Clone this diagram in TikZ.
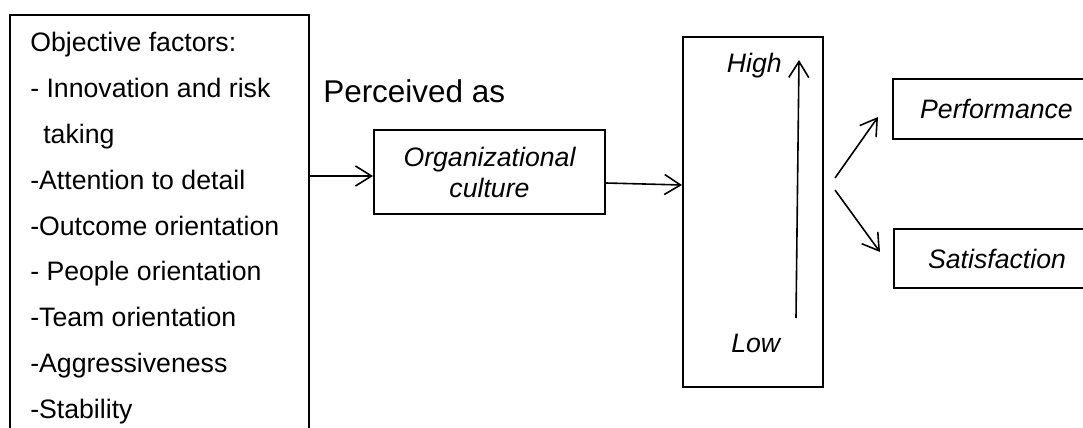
\documentclass[tikz,border=0pt]{standalone}
\usepackage{fontspec}
\setmainfont{Liberation Sans}
\usetikzlibrary{arrows.meta}
\begin{document}
\begin{tikzpicture}[x=0.75pt,y=-0.75pt,
  box/.style={draw,line width=1.5pt,inner sep=0pt},
  arr/.style={line width=1.2pt,-{Straight Barb[length=12pt,width=15pt]}},
  txt/.style={inner sep=0pt,font=\fontsize{20}{23.25}\selectfont},
  itxt/.style={txt,font=\itshape\fontsize{20}{23.25}\selectfont},
  ]
\useasboundingbox (0,0) rectangle (1083,428);
\clip (0,0) rectangle (1083,428);

% list of objective factors
\node[box,anchor=north west,minimum width=224.25pt,minimum height=345pt] (factors) at (9,14) {};
\foreach \dx/\t [count=\i] in {0/Objective factors:,0/- Innovation and risk,13/taking,
    0/-Attention to detail,0/-Outcome orientation,0/- People orientation,
    0/-Team orientation,0/-Aggressiveness,0/-Stability}
  \node[txt,anchor=base west] (f\i) at (30+\dx,{52+45.75*(\i-1)}) {\t};

\node[inner sep=0pt,anchor=base west,font=\fontsize{23.6}{28}\selectfont] (perc) at (323,103) {Perceived as};

\node[box,minimum width=173.25pt,minimum height=63pt,align=center,itxt] (culture) at (489.5,172) {Organizational\\culture};

% level scale
\node[box,minimum width=105pt,minimum height=262.5pt] (level) at (753,212) {};
\node[itxt,anchor=base east] (high) at (782,73) {High};
\node[itxt,anchor=base west] (low) at (731,352) {Low};
\coordinate (lo) at (796,318);
\coordinate (hi) at (799,60);
\draw[arr] (lo) -- (hi);

% outcomes
\node[box,minimum width=155.25pt,minimum height=45pt,itxt] (perf) at (996.5,109) {Performance};
\node[box,minimum width=154.5pt,minimum height=44.25pt,itxt] (sat) at (997,258.5) {Satisfaction};

% connectors
\draw[arr] ([yshift=-3pt]culture.west -| factors.east) -- ([yshift=-3pt]culture.west);
\draw[arr] ([yshift=-8.25pt]culture.east) -- ([yshift=20.25pt]level.west);
\coordinate (fa) at (835,178);
\coordinate (fb) at (835,190);
\coordinate (pa) at (878,117);
\coordinate (sa) at (880,252);
\draw[arr] (fa) -- (pa);
\draw[arr] (fb) -- (sa);
\end{tikzpicture}
\end{document}
